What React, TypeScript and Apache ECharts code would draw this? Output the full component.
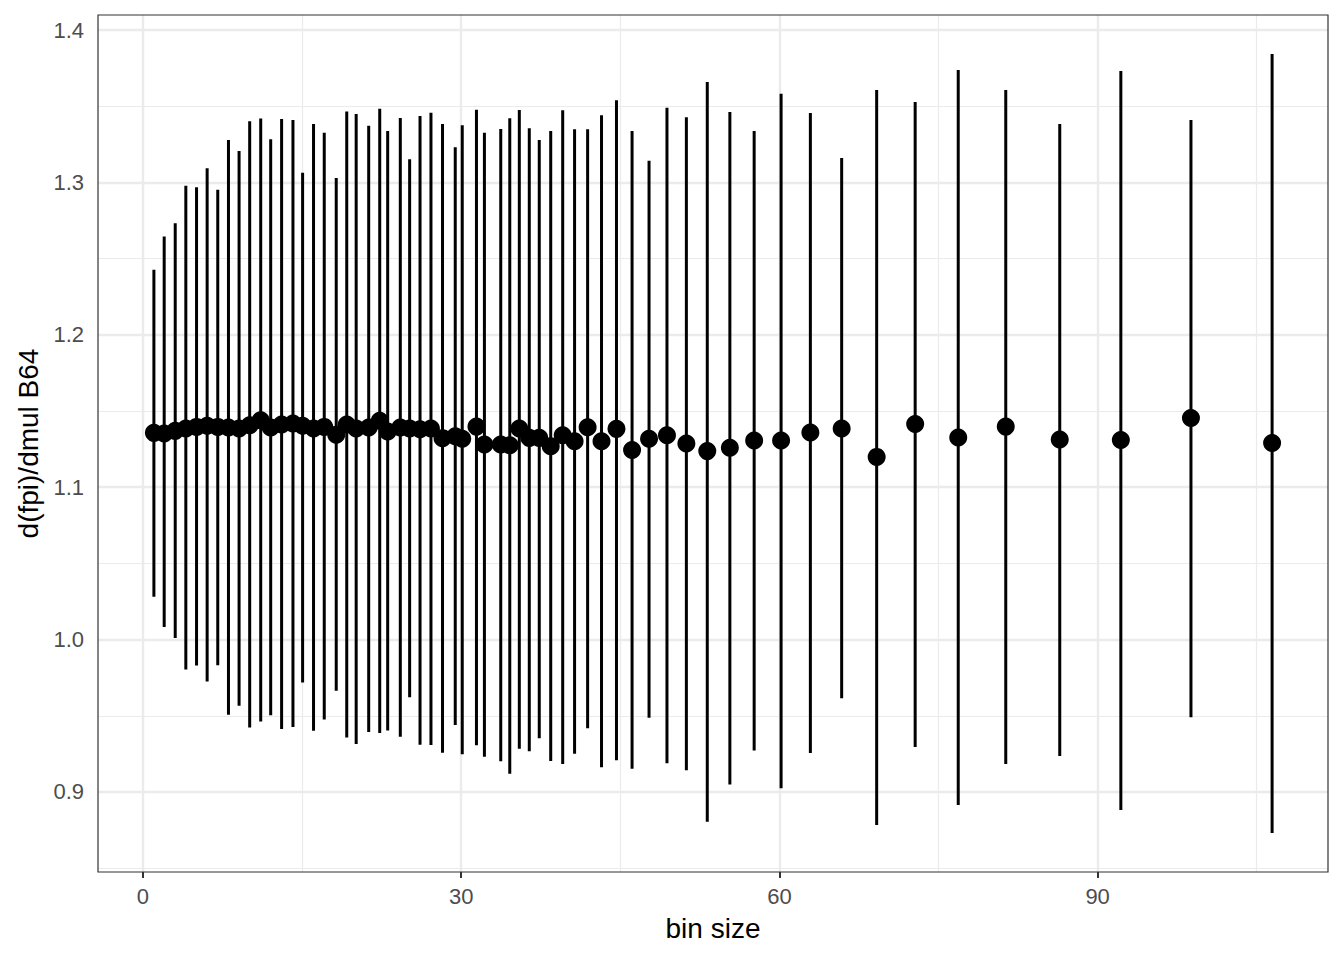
import React, { useEffect, useRef } from "react";
import * as echarts from "echarts";

// ---- data ----
const binSize = [1.03, 2.0, 3.04, 4.04, 5.05, 6.05, 7.05, 8.06, 9.06, 10.06, 11.1, 12.04, 13.07, 14.14, 15.05, 16.08, 17.09, 18.22, 19.21, 20.1, 21.28, 22.32, 23.07, 24.26, 25.14, 26.12, 27.15, 28.24, 29.44, 30.1, 31.44, 32.19, 33.73, 34.58, 35.48, 36.42, 37.36, 38.44, 39.57, 40.69, 41.92, 43.23, 44.64, 46.11, 47.71, 49.4, 51.23, 53.2, 55.33, 57.62, 60.16, 62.92, 65.87, 69.17, 72.8, 76.86, 81.34, 86.43, 92.19, 98.8, 106.45];
const estimate = [1.1357, 1.1353, 1.137, 1.1385, 1.1396, 1.1403, 1.1396, 1.1392, 1.1385, 1.1407, 1.144, 1.1392, 1.1412, 1.1418, 1.1403, 1.1385, 1.1396, 1.1344, 1.1412, 1.1385, 1.1392, 1.1436, 1.1366, 1.1392, 1.1385, 1.1381, 1.1385, 1.1322, 1.1335, 1.1318, 1.1398, 1.128, 1.128, 1.1276, 1.1385, 1.1324, 1.1324, 1.1269, 1.1341, 1.1302, 1.1394, 1.1302, 1.1383, 1.1244, 1.1318, 1.1341, 1.1287, 1.1237, 1.1259, 1.1307, 1.1307, 1.1359, 1.1385, 1.1199, 1.1415, 1.1326, 1.1398, 1.1313, 1.131, 1.1454, 1.129];
const upper = [1.2427, 1.2645, 1.2733, 1.2978, 1.2969, 1.3094, 1.2952, 1.3279, 1.3207, 1.3402, 1.3419, 1.3284, 1.3417, 1.341, 1.3063, 1.3384, 1.3327, 1.303, 1.3465, 1.345, 1.3373, 1.3484, 1.3338, 1.3423, 1.3153, 1.3436, 1.3458, 1.3384, 1.3231, 1.3375, 1.3478, 1.3327, 1.3351, 1.3421, 1.3476, 1.3356, 1.3279, 1.3338, 1.3474, 1.3349, 1.3349, 1.3441, 1.3539, 1.3338, 1.3142, 1.3491, 1.3428, 1.3659, 1.3463, 1.3338, 1.3583, 1.3456, 1.3161, 1.3607, 1.3528, 1.3738, 1.3607, 1.3384, 1.3731, 1.341, 1.3843];
const lower = [1.0282, 1.0083, 1.0011, 0.9804, 0.983, 0.9725, 0.9832, 0.9507, 0.9566, 0.9424, 0.9463, 0.9503, 0.9413, 0.9426, 0.9719, 0.9402, 0.9476, 0.9664, 0.9358, 0.9315, 0.9393, 0.9387, 0.9404, 0.9362, 0.9621, 0.931, 0.9308, 0.9258, 0.9439, 0.9247, 0.9306, 0.9231, 0.9201, 0.9119, 0.9284, 0.9267, 0.9352, 0.9203, 0.9183, 0.9251, 0.9419, 0.9162, 0.9208, 0.9153, 0.9487, 0.9188, 0.9142, 0.8805, 0.905, 0.9273, 0.9024, 0.9256, 0.9616, 0.8784, 0.9295, 0.8915, 0.9183, 0.9236, 0.8882, 0.9491, 0.8731];

const xTicks = [0, 30, 60, 90];
const xMinor = [15, 45, 75, 105];
const yTicks = [0.9, 1.0, 1.1, 1.2, 1.3, 1.4];
const yMinor = [0.85, 0.95, 1.05, 1.15, 1.25, 1.35];
const xLimits = [-4.24, 111.72];
const yLimits = [0.8475, 1.4099];

const xTitle = "bin size";
const yTitle = "d(fpi)/dmul B64";

const FONT = "'Liberation Sans', Arial, Helvetica, sans-serif";

export default function App() {
  const ref = useRef<HTMLDivElement>(null);

  useEffect(() => {
    if (!ref.current) return;
    const chart = echarts.init(ref.current, undefined, { renderer: "svg" });

    const major = { color: "#EBEBEB", width: 2.4, type: "solid" };
    const minor = { color: "#EBEBEB", width: 1.2, type: "solid" };

    const gridLines = [
      ...xMinor.map((v) => ({ xAxis: v, lineStyle: minor })),
      ...yMinor.map((v) => ({ yAxis: v, lineStyle: minor })),
      ...xTicks.map((v) => ({ xAxis: v, lineStyle: major })),
      ...yTicks.map((v) => ({ yAxis: v, lineStyle: major })),
    ];

    const rangeData = binSize.map((x, i) => [x, lower[i], upper[i]]);
    const pointData = binSize.map((x, i) => [x, estimate[i]]);

    chart.setOption({
      animation: false,
      backgroundColor: "#ffffff",
      grid: {
        left: 98,
        top: 15,
        width: 1230,
        height: 857,
        show: true,
        borderColor: "#333333",
        borderWidth: 1.2,
        backgroundColor: "transparent",
        z: 30,
      },
      xAxis: {
        type: "value",
        min: xLimits[0],
        max: xLimits[1],
        name: xTitle,
        nameLocation: "middle",
        nameGap: 42,
        nameTextStyle: { color: "#000000", fontSize: 28, fontFamily: FONT },
        axisLine: { show: false },
        splitLine: { show: false },
        axisTick: {
          show: true,
          length: 6,
          customValues: xTicks,
          lineStyle: { color: "#333333", width: 2 },
        },
        axisLabel: {
          show: true,
          customValues: xTicks,
          margin: 13,
          color: "#4D4D4D",
          fontSize: 22,
          fontFamily: FONT,
          formatter: (v: number) => String(v),
        },
      },
      yAxis: {
        type: "value",
        min: yLimits[0],
        max: yLimits[1],
        name: yTitle,
        nameLocation: "middle",
        nameGap: 52,
        nameTextStyle: { color: "#000000", fontSize: 28, fontFamily: FONT },
        axisLine: { show: false },
        splitLine: { show: false },
        axisTick: {
          show: true,
          length: 6,
          customValues: yTicks,
          lineStyle: { color: "#333333", width: 2 },
        },
        axisLabel: {
          show: true,
          customValues: yTicks,
          margin: 14,
          color: "#4D4D4D",
          fontSize: 22,
          fontFamily: FONT,
          formatter: (v: number) => v.toFixed(1),
        },
      },
      series: [
        {
          type: "line",
          data: [],
          z: 1,
          silent: true,
          markLine: {
            silent: true,
            symbol: "none",
            label: { show: false },
            animation: false,
            data: gridLines,
          },
        },
        {
          type: "custom",
          z: 20,
          silent: true,
          data: rangeData,
          encode: { x: 0, y: [1, 2] },
          renderItem: (params: any, api: any) => {
            const x = api.value(0);
            const p1 = api.coord([x, api.value(1)]);
            const p2 = api.coord([x, api.value(2)]);
            return {
              type: "line",
              shape: { x1: p1[0], y1: p1[1], x2: p2[0], y2: p2[1] },
              style: { stroke: "#000000", lineWidth: 3 },
            };
          },
        },
        {
          type: "scatter",
          z: 21,
          silent: true,
          data: pointData,
          symbol: "circle",
          symbolSize: 18,
          itemStyle: { color: "#000000", opacity: 1 },
        },
      ],
    });

    return () => chart.dispose();
  }, []);

  return (
    <div
      ref={ref}
      style={{ position: "absolute", left: 0, top: 0, width: 1344, height: 960, background: "#fff" }}
    />
  );
}
